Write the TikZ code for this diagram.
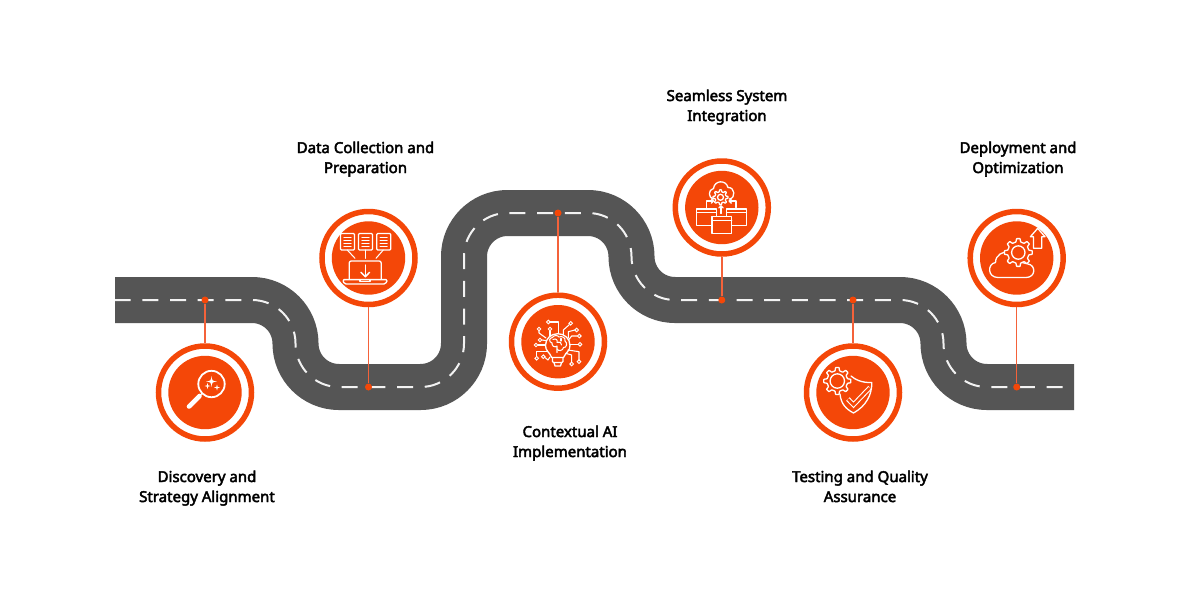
\documentclass[tikz,border=0pt]{standalone}
\usepackage{fontspec}
\newfontfamily\labfont{Noto Sans}[FakeBold=3]
\definecolor{roadc}{HTML}{555555}
\definecolor{orangec}{HTML}{F44708}
\definecolor{connc}{HTML}{F4623A}
\definecolor{dashc}{HTML}{F2F2F2}
\newcommand{\gearshape}[5]{% x,y,rOut,rIn,teeth
  \pgfmathsetmacro{\gstep}{360/#5}
  \pgfmathsetmacro{\ga}{\gstep*0.16}
  \pgfmathsetmacro{\gb}{\gstep*0.28}
  \draw[icon,fill=orangec,rounded corners=0.4pt,shift={(#1,#2)}]
    ({-\gb}:#4) \foreach \k in {1,...,#5}{
      -- ({(\k-1)*\gstep-\ga}:#3) -- ({(\k-1)*\gstep+\ga}:#3) -- ({(\k-1)*\gstep+\gb}:#4) -- ({\k*\gstep-\gb}:#4)
    } -- cycle;
}
\newcommand{\sparkle}[3]{% x,y,r
  \fill[white,shift={(#1,#2)}] (0,-#3) .. controls (0.12*#3,-0.12*#3) .. (#3,0) .. controls (0.12*#3,0.12*#3) .. (0,#3) .. controls (-0.12*#3,0.12*#3) .. (-#3,0) .. controls (-0.12*#3,-0.12*#3) .. cycle;
}
\begin{document}
\begin{tikzpicture}[x=1pt,y=-1pt,
  road/.style={line width=46pt,draw=roadc,rounded corners=43.5pt},
  centre/.style={line width=2pt,draw=dashc,rounded corners=43.5pt,dash pattern=on 16pt off 11.67pt,dash phase=0.34pt},
  ring/.style={circle,draw=orangec,line width=5.5pt,fill=white,minimum size=93pt,inner sep=0pt},
  disc/.style={circle,fill=orangec,minimum size=73.4pt,inner sep=0pt},
  dot/.style={circle,fill=orangec,minimum size=7pt,inner sep=0pt},
  conn/.style={draw=connc,line width=1.5pt},
  lab/.style={align=center,font=\labfont\fontsize{15}{20}\selectfont,text=black,inner sep=0pt},
  icon/.style={draw=white,line width=1.3pt,line join=round,line cap=round},
  iconthin/.style={draw=white,line width=1.05pt,line join=round,line cap=round},
  term/.style={draw=white,line width=0.95pt,fill=orangec}
]
\useasboundingbox (0,0) rectangle (1200,600);
\fill[white] (0,0) rectangle (1200,600);
% road
\draw[road] (115,300) -- (295.5,300) -- (295.5,387) -- (464,387) -- (464,213) -- (631.5,213) -- (631.5,300) -- (943.5,300) -- (943.5,387) -- (1074,387);
\draw[centre] (115,300) -- (295.5,300) -- (295.5,387) -- (464,387) -- (464,213) -- (631.5,213) -- (631.5,300) -- (943.5,300) -- (943.5,387) -- (1074,387);
% rings
\node[ring] (c1) at (205,392.5) {};
\node[ring] (c2) at (368.5,258) {};
\node[ring] (c3) at (558,341.7) {};
\node[ring] (c4) at (721.8,207.5) {};
\node[ring] (c5) at (853,392.5) {};
\node[ring] (c6) at (1016.7,258) {};
\foreach \n in {1,...,6}{\node[disc] (i\n) at (c\n) {};}
% dots and connectors
\node[dot] (d1) at (205,300) {};
\node[dot] (d2) at (368.5,387) {};
\node[dot] (d3) at (558,213) {};
\node[dot] (d4) at (721.8,300) {};
\node[dot] (d5) at (853,300) {};
\node[dot] (d6) at (1016.7,387) {};
\foreach \n in {1,...,6}{\draw[conn] (d\n) -- (c\n);}
% labels
\node[lab] (t1) at (207,488) {\strut Discovery and\\\strut Strategy Alignment};
\node[lab] (t2) at (365.5,159) {\strut Data Collection and\\\strut Preparation};
\node[lab] (t3) at (570,443) {\strut Contextual AI\\\strut Implementation};
\node[lab] (t4) at (727,107) {\strut Seamless System\\\strut Integration};
\node[lab] (t5) at (860,488) {\strut Testing and Quality\\\strut Assurance};
\node[lab] (t6) at (1018,159) {\strut Deployment and\\\strut Optimization};
% --- icon 1: magnifier
\draw[icon,line width=1.8pt] (211.5,384) circle (13.2);
\draw[icon,line width=1.4pt] (202.2,393.3) -- (199.5,396);
\draw[icon,line width=4.6pt] (199.5,396) -- (189,406.5);
\sparkle{211.5}{381.5}{5.5}
\sparkle{207.5}{386}{3}
\sparkle{217}{387.5}{3}
% --- icon 2: laptop and documents
\foreach \xa in {340.5,358.5,376.7}{
  \draw[icon,rounded corners=1pt] (\xa,233.5) rectangle +(14,16.5);
  \foreach \yy in {237.5,240.5,243.5,246.5}{\draw[iconthin,line width=1.1pt] (\xa+3.5,\yy) -- (\xa+10.5,\yy);}
}
\draw[iconthin] (347.3,250) -- (355,258.3);
\draw[iconthin] (365.3,250) -- (365.3,258.3);
\draw[iconthin] (383.3,250) -- (376,258.3);
\draw[icon,rounded corners=2pt] (349.2,279.3) -- (349.2,261) -- (381.2,261) -- (381.2,279.3);
\draw[icon,rounded corners=1.5pt] (342.5,279.6) -- (387.6,279.6) -- (385.5,284) -- (344.5,284) -- cycle;
\draw[iconthin] (360,279.6) -- (360,281.5) -- (370,281.5) -- (370,279.6);
\draw[icon,line width=1.5pt] (365.3,265) -- (365.3,276.5);
\draw[icon,line width=1.5pt] (361,272.3) -- (365.3,276.7) -- (369.6,272.3);
% --- icon 3: brain in bulb
\draw[icon] (551.7,357.5) .. controls (549.5,352) and (545.5,351) .. (545.5,345.5) .. controls (545.5,338.5) and (551,333.7) .. (557.8,333.7) .. controls (564.5,333.7) and (570,338.5) .. (570,345.5) .. controls (570,351) and (566,352) .. (563.5,357.5) -- cycle;
\draw[icon,rounded corners=1pt] (552.5,357.5) -- (552.5,362.5) -- (563,362.5) -- (563,357.5);
\draw[icon] (554,362.5) -- (555,366) -- (560.5,366) -- (561.5,362.5);
\draw[iconthin] (552,343) .. controls (548.5,342) and (549,337.5) .. (552.5,337.5) .. controls (553.5,335) and (558,335) .. (559,337) .. controls (562,335.5) and (566,338) .. (565,341) .. controls (568,343) and (566.5,348) .. (563.5,347.5) .. controls (563,351) and (558,351.5) .. (557,349);
\draw[iconthin] (552,343) .. controls (551.5,346) and (555,348) .. (557,346) -- (557,352.5);
\draw[iconthin] (553,339.5) .. controls (556,338) and (558,340) .. (557,342.5) .. controls (560,341.5) and (562,343) .. (561.5,345);
\draw[iconthin] (561,338.5) -- (561,341);
\foreach \ta/\tb/\pth in {
  548.3/322/{(550.2,322) -- (558.3,322) -- (558.3,333)},
  570.7/323.3/{(569.3,324.7) -- (563.3,330) -- (563.3,334.5)},
  539/329/{(539,331) -- (539,333) -- (546,338)},
  550/329/{(550,331) -- (550,336)},
  576.7/330/{(574.8,330) -- (568.3,331.7) -- (568.3,338)},
  579.3/336/{(577.4,336) -- (571.7,336) -- (568.5,340)},
  540/340/{(542,340) -- (546.7,340.7)},
  536/345/{(538,345) -- (545.5,345)},
  580/344.3/{(578,344.3) -- (570,344.3)},
  536.7/358.3/{(536.7,356.4) -- (536.7,351.7) -- (547,351.7)},
  543.3/356.7/{(545,357.6) -- (548,360) -- (550,357)},
  571.7/364/{(571.7,362) -- (571.7,355) -- (565.5,353.3)},
  579/361.7/{(579,359.8) -- (579,351.7) -- (568,350)}
}{
  \draw[iconthin] \pth;
  \draw[term] (\ta,\tb) circle (1.8);
}
% --- icon 4: cloud, gear, windows
\draw[icon] (713.5,199) .. controls (708,198) and (708,189.5) .. (713.5,188.5) .. controls (714.5,180) and (726,179.5) .. (728,187.5) .. controls (735,187) and (736,198) .. (729.5,199);
\gearshape{720.5}{197.3}{7.6}{5.6}{8}
\draw[icon] (720.5,197.3) circle (3);
\draw[icon,fill=orangec] (696.7,209) rectangle (716.7,225.2);
\draw[icon,fill=orangec] (726.7,209) rectangle (746.7,225.2);
\draw[iconthin] (696.7,212.5) -- (716.7,212.5);
\draw[iconthin] (726.7,212.5) -- (746.7,212.5);
\draw[icon,fill=orangec] (712,216.7) rectangle (731.8,233.3);
\draw[iconthin] (712,220.2) -- (731.8,220.2);
\draw[iconthin] (721,213.5) -- (721,206.5);
\draw[iconthin,line width=1.3pt] (718.8,208) -- (721,205.8) -- (723.2,208);
\draw[iconthin] (706.7,207.5) -- (706.7,201) -- (712.8,201);
\draw[iconthin,line width=1.3pt] (711.3,198.8) -- (713.5,201) -- (711.3,203.2);
\draw[iconthin] (736,207.5) -- (736,201) -- (729.8,201);
\draw[iconthin,line width=1.3pt] (731.3,198.8) -- (729.1,201) -- (731.3,203.2);
% --- icon 5: gear and shield
\draw[icon] (851,376) .. controls (855,379.5) and (862,383) .. (871.8,382.5) .. controls (872,395) and (866,406) .. (853.5,413) .. controls (846,409) and (841,404) .. (840,394);
\gearshape{837.3}{381}{13.6}{10.4}{8}
\draw[icon] (837.3,381) circle (7.2);
\draw[white,line width=4.8pt,line join=miter] (847.9,399) -- (853.5,404.8) -- (870,387.6);
\draw[orangec,line width=2.6pt,line join=miter] (848,399.1) -- (853.5,404.8) -- (869.7,387.9);
% --- icon 6: cloud, gear, arrow
\draw[icon] (998,277.5) .. controls (987.5,277.5) and (987,264) .. (995.5,262.5) .. controls (995.5,255) and (1003,251) .. (1009,252) -- (1020,262) -- (1028,264) .. controls (1036,265) and (1036,277.5) .. (1026,277.5) -- cycle;
\gearshape{1018.3}{252.5}{14}{10.8}{8}
\draw[icon] (1018.3,252.5) circle (6.7);
\draw[icon,fill=orangec] (1037.7,228.3) -- (1045,236.7) -- (1041.7,236.7) -- (1041.7,248.3) -- (1033.5,248.3) -- (1033.5,236.7) -- (1030.4,236.7) -- cycle;
\end{tikzpicture}
\end{document}
